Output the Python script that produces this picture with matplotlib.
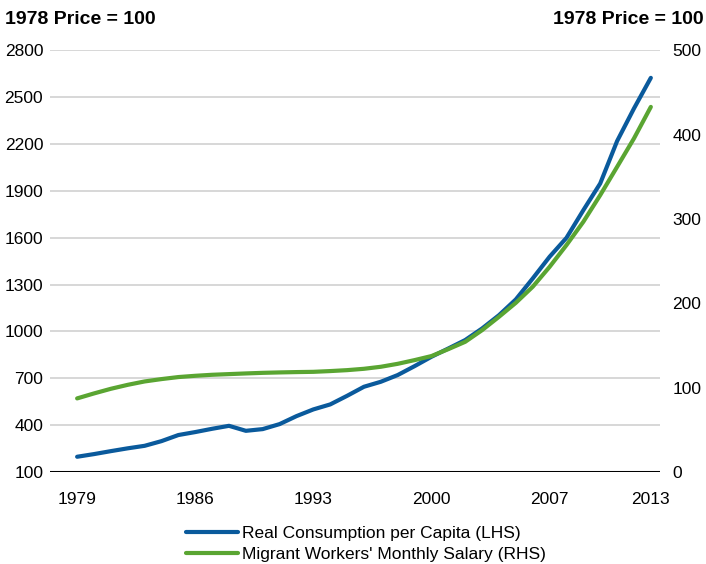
import matplotlib.pyplot as plt

years = list(range(1979, 2014))
consumption = [198, 215, 234, 252, 268, 298, 337, 356, 377, 396,
               364, 375, 407, 458, 501, 533, 588, 646, 678, 721,
               778, 838, 891, 945, 1019, 1104, 1205, 1339, 1478, 1599,
               1776, 1947, 2218, 2427, 2623]
salary = [87.3, 93.2, 98.7, 103.4, 107.4, 110.2, 112.6, 114.1, 115.3, 116.1,
          116.9, 117.6, 118.1, 118.5, 118.8, 119.7, 120.8, 122.4, 124.8, 128.3,
          132.7, 137.5, 145.7, 154.4, 168.2, 184.0, 200.6, 219.6, 243.2, 269.0,
          296.6, 328.2, 361.7, 395.4, 432.8]
xticks = [1979, 1986, 1993, 2000, 2007, 2013]
left_ticks = list(range(100, 2801, 300))
right_ticks = list(range(0, 501, 100))

plt.rcParams['font.family'] = ['Liberation Sans', 'DejaVu Sans']

blue = '#0A5A9C'
green = '#5AA532'

fig = plt.figure(figsize=(7.06, 5.64), dpi=100)
ax = fig.add_axes([0.071, 0.163, 0.864, 0.748])
ax2 = ax.twinx()

l1, = ax.plot(years, consumption, color=blue, lw=3, solid_capstyle='round',
              label='Real Consumption per Capita (LHS)')
l2, = ax2.plot(years, salary, color=green, lw=3, solid_capstyle='round',
               label="Migrant Workers' Monthly Salary (RHS)")

ax.set_xlim(1977.4, 2013.55)
ax.set_ylim(100, 2800)
ax2.set_ylim(0, 500)
ax.set_yticks(left_ticks)
ax2.set_yticks(right_ticks)
ax.set_xticks(xticks)

ax.grid(axis='y', color='#d4d4d4', lw=1.3)
ax.set_axisbelow(True)
for a in (ax, ax2):
    for s in ['top', 'left', 'right', 'bottom']:
        a.spines[s].set_visible(False)
ax.axhline(100, color='black', lw=2.2, zorder=3)

ax.tick_params(axis='both', length=0, labelsize=12.5)
ax.tick_params(axis='y', pad=5)
ax.tick_params(axis='x', pad=14)
ax2.tick_params(axis='y', length=0, labelsize=12.5, pad=9)

fig.text(0.007, 0.965, '1978 Price = 100', fontsize=14, fontweight='bold', ha='left', va='center')
fig.text(0.997, 0.965, '1978 Price = 100', fontsize=14, fontweight='bold', ha='right', va='center')

fig.legend(handles=[l1, l2], loc='upper center', bbox_to_anchor=(0.518, 0.08),
           frameon=False, fontsize=12.5, handlelength=3.0, handletextpad=0.25,
           labelspacing=0.35, borderaxespad=0)

fig.savefig('out.png', dpi=100)
